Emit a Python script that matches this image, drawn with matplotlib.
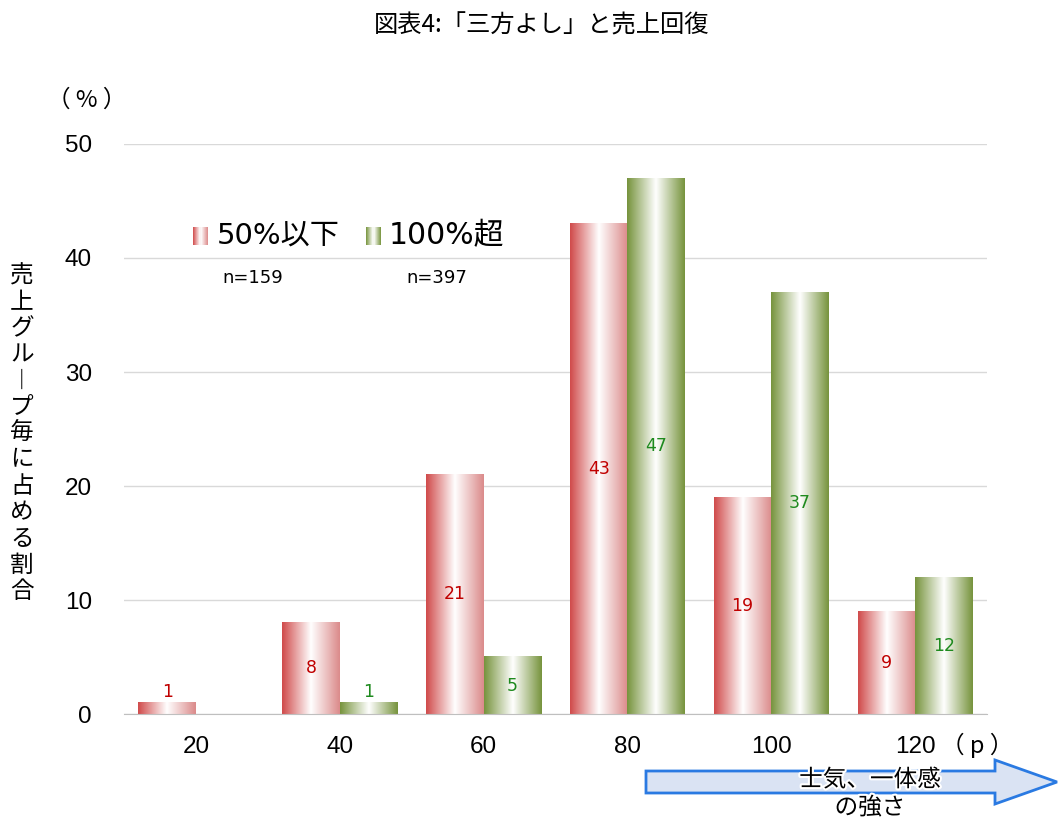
import numpy as np
import matplotlib
matplotlib.use("Agg")
import matplotlib.pyplot as plt
import matplotlib.patheffects as pe
from matplotlib.colors import LinearSegmentedColormap
from matplotlib.patches import FancyArrow, Rectangle

plt.rcParams["font.family"] = ["Noto Sans CJK JP", "DejaVu Sans"]

categories = [20, 40, 60, 80, 100, 120]
low_share = [1, 8, 21, 43, 19, 9]      # 50%以下
high_share = [0, 1, 5, 47, 37, 12]     # 100%超
series_names = ["50%以下", "100%超"]
series_n = ["n=159", "n=397"]

RED_L = "#d04a4a"
RED_R = "#db8a8a"
GREEN = "#76933c"
red_cmap = LinearSegmentedColormap.from_list("red_grad", [RED_L, "#ffffff", RED_R], N=256)
green_cmap = LinearSegmentedColormap.from_list("green_grad", [GREEN, "#ffffff", GREEN], N=256)
grad = np.linspace(0, 1, 256).reshape(1, -1)

LATIN = ["DejaVu Sans", "Noto Sans CJK JP"]
ARIAL = ["Liberation Sans", "DejaVu Sans"]

fig = plt.figure(figsize=(10.59, 8.22), dpi=100)
ax = fig.add_axes([124 / 1059, 1 - 714 / 822, (987 - 124) / 1059, (714 - 144) / 822])

width = 0.4
x = np.arange(len(categories))


def gradient_bar(xc, h, cmap):
    if h <= 0:
        return
    ax.imshow(grad, cmap=cmap, extent=[xc - width / 2, xc + width / 2, 0, h],
              aspect="auto", interpolation="bicubic", zorder=2)


for i in x:
    gradient_bar(i - width / 2, low_share[i], red_cmap)
    gradient_bar(i + width / 2, high_share[i], green_cmap)

# value labels inside the bars (lifted a little for very short ones)
for i in x:
    for v, dx, col in [(low_share[i], -width / 2, "#c00000"), (high_share[i], width / 2, "#1e8a1e")]:
        if v <= 0:
            continue
        ax.text(i + dx, max(v / 2, 1.9), str(v), ha="center", va="center",
                fontsize=12.5, color=col, zorder=4, family=LATIN)

ax.set_xlim(-0.5, len(categories) - 0.5)
ax.set_ylim(0, 50)
ax.set_yticks([0, 10, 20, 30, 40, 50])
ax.set_xticks(x)
ax.set_xticklabels([str(c) for c in categories])
ax.grid(axis="y", color="#d9d9d9", linewidth=1, zorder=0)
ax.set_axisbelow(True)
for s in ["left", "right", "top"]:
    ax.spines[s].set_visible(False)
ax.spines["bottom"].set_color("#bfbfbf")
ax.tick_params(axis="both", length=0, labelsize=17.5, colors="#000000")
ax.tick_params(axis="y", pad=23)
ax.tick_params(axis="x", pad=16)
for lab in ax.get_xticklabels() + ax.get_yticklabels():
    lab.set_fontfamily(ARIAL)

# title and axis annotations
fig.text(542 / 1059, 1 - 26 / 822, "図表4:「三方よし」と売上回復", ha="center", va="center", fontsize=17.5)
fig.text(87 / 1059, 1 - 100 / 822, "（ % ）", ha="center", va="center", fontsize=17)
fig.text(977 / 1059, 1 - 745 / 822, "（ p ）", ha="center", va="center", fontsize=17)

# vertical y label, one character per line (long vowel mark drawn vertically)
ylabel = "売上グループ毎に占める割合"
for k, ch in enumerate(ylabel):
    fig.text(22 / 1059, 1 - (276 + k * 26.3) / 822, "︱" if ch == "ー" else ch,
             ha="center", va="center", fontsize=17)

# legend with gradient swatches
def swatch(x0, y0, cmap):
    n = 14
    for k in range(n):
        t = (k + 0.5) / n
        fig.patches.append(Rectangle(((x0 + k * 15 / n) / 1059, 1 - (y0 + 18) / 822),
                                     15 / n / 1059 + 0.0002, 18 / 822, transform=fig.transFigure,
                                     color=cmap(t), linewidth=0))


swatch(193, 227, red_cmap)
swatch(366, 227, green_cmap)
fig.text(217 / 1059, 1 - 236 / 822, series_names[0], ha="left", va="center", fontsize=21,
         family=LATIN)
fig.text(389 / 1059, 1 - 236 / 822, series_names[1], ha="left", va="center", fontsize=21.5,
         family=LATIN)
fig.text(253 / 1059, 1 - 278 / 822, series_n[0], ha="center", va="center", fontsize=13,
         family=LATIN)
fig.text(437 / 1059, 1 - 278 / 822, series_n[1], ha="center", va="center", fontsize=13,
         family=LATIN)

# direction arrow under the x axis
arrow_ax = fig.add_axes([0, 0, 1, 1], zorder=5)
arrow_ax.set_xlim(0, 1059)
arrow_ax.set_ylim(822, 0)
arrow_ax.axis("off")
arrow_ax.add_patch(FancyArrow(646, 782, 1057 - 646 - 62, 0, width=22, head_width=44,
                              head_length=62, length_includes_head=False,
                              facecolor="#dae3f3", edgecolor="#2a7ae2", linewidth=2))
glow = [pe.withStroke(linewidth=3, foreground="white")]
arrow_ax.text(870, 780, "士気、一体感", ha="center", va="center", fontsize=17, path_effects=glow)
arrow_ax.text(870, 808, "の強さ", ha="center", va="center", fontsize=17, path_effects=glow)

fig.savefig("out.png", dpi=100)
